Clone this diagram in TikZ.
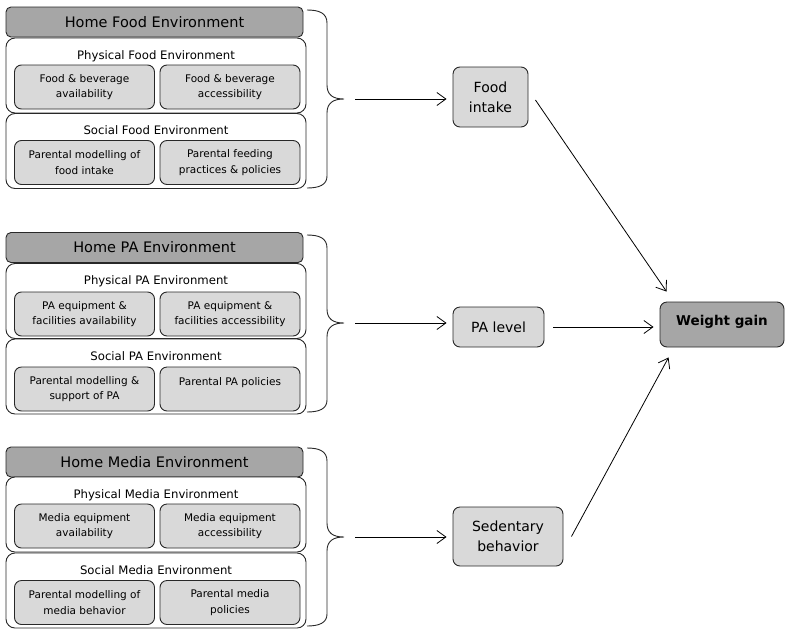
\documentclass[tikz,border=0pt]{standalone}
\usepackage{fontspec}
\setmainfont{DejaVu Sans}
\usetikzlibrary{arrows.meta,calc}
\definecolor{hdr}{RGB}{166,166,166}
\definecolor{itm}{RGB}{217,217,217}
\definecolor{edge}{RGB}{40,40,40}
\tikzset{
  base/.style={draw=edge, line width=0.9pt, inner sep=0pt, align=center},
  header/.style={base, fill=hdr, rounded corners=5pt, minimum width=297pt, minimum height=30pt,
    font=\fontsize{14.5}{17}\selectfont},
  panel/.style={base, fill=white, rounded corners=9pt, minimum width=300pt, minimum height=75pt,
    text height=9pt, text depth=42pt, font=\fontsize{11.7}{14}\selectfont},
  item/.style={base, fill=itm, rounded corners=7pt, minimum width=140pt, minimum height=44pt,
    font=\fontsize{10.5}{15.5}\selectfont},
  itemtop/.style={item, text height=8pt, text depth=15pt},
  mid/.style={base, fill=itm, rounded corners=7pt, minimum height=40pt,
    font=\fontsize{14}{20}\selectfont},
  goal/.style={base, fill=hdr, rounded corners=7pt, minimum width=124pt, minimum height=45pt,
    text height=10pt, text depth=7.5pt, font=\fontsize{13.5}{16}\selectfont\bfseries},
  brace/.style={draw=edge, line width=0.9pt},
  arr/.style={draw=black, line width=0.8pt, -{Straight Barb[length=9pt,width=13pt,line width=0.8pt]}},
}
\begin{document}
\begin{tikzpicture}[x=1pt,y=-1pt]
\useasboundingbox (0,0) rectangle (789,635);
% ---------- Group 1: Food ----------
\node[header] (h1) at (154.5,22) {Home Food Environment};
\node[panel] (p1) at (156,75.5) {Physical Food Environment};
\node[item] (p1a) at (84.5,87) {Food \& beverage\\availability};
\node[item] (p1b) at (230,87) {Food \& beverage\\accessibility};
\node[panel] (s1) at (156,151) {Social Food Environment};
\node[item] (s1a) at (84.5,162.5) {Parental modelling of\\food intake};
\node[item] (s1b) at (230,162.5) {Parental feeding\\practices \& policies};
\draw[brace] (307,10) .. controls (319,10) and (327,13) .. (327,23) -- (327,85)
  .. controls (327,95) and (333,99) .. (344,99) .. controls (333,99) and (327,103) .. (327,113)
  -- (327,176) .. controls (327,185) and (319,188) .. (307,188);
\coordinate (b1) at (355,99);
% ---------- Group 2: PA ----------
\node[header] (h2) at (154.5,247.5) {Home PA Environment};
\node[panel] (p2) at (156,301) {Physical PA Environment};
\node[item] (p2a) at (84.5,314) {PA equipment \&\\facilities availability};
\node[item] (p2b) at (230,314) {PA equipment \&\\facilities accessibility};
\node[panel] (s2) at (156,376.5) {Social PA Environment};
\node[item] (s2a) at (84.5,389) {Parental modelling \&\\support of PA};
\node[itemtop] (s2b) at (230,389) {Parental PA policies};
\draw[brace] (307,235) .. controls (319,235) and (327,238) .. (327,248) -- (327,309)
  .. controls (327,319) and (333,323) .. (344,323) .. controls (333,323) and (327,327) .. (327,337)
  -- (327,400) .. controls (327,409) and (319,412) .. (307,412);
\coordinate (b2) at (355,323);
% ---------- Group 3: Media ----------
\node[header] (h3) at (154.5,462) {Home Media Environment};
\node[panel] (p3) at (156,514.5) {Physical Media Environment};
\node[item] (p3a) at (84.5,526) {Media equipment\\availability};
\node[item] (p3b) at (230,526) {Media equipment\\accessibility};
\node[panel] (s3) at (156,590.5) {Social Media Environment};
\node[item] (s3a) at (84.5,602.5) {Parental modelling of\\media behavior};
\node[item] (s3b) at (230,602.5) {Parental media\\policies};
\draw[brace] (307,448) .. controls (319,448) and (327,451) .. (327,461) -- (327,523)
  .. controls (327,533) and (333,537) .. (344,537) .. controls (333,537) and (327,541) .. (327,551)
  -- (327,614) .. controls (327,623) and (319,626) .. (307,626);
\coordinate (b3) at (355,537);
% ---------- Outcomes ----------
\node[mid, minimum width=75pt, minimum height=60pt] (fi) at (490.5,97) {Food\\intake};
\node[mid, minimum width=91pt] (pa) at (498.5,327) {PA level};
\node[mid, minimum width=110pt, minimum height=59pt] (sb) at (508,536.5) {Sedentary\\behavior};
\node[goal] (wg) at (722,324.5) {Weight gain};
% ---------- Connectors ----------
\draw[arr, shorten >=6pt] (b1) -- (b1 -| fi.west);
\draw[arr, shorten >=6pt] (b2) -- (b2 -| pa.west);
\draw[arr, shorten >=6pt] (b3) -- (b3 -| sb.west);
\draw[arr] ($(fi.east)+(7,3)$) -- ($(wg.north west)+(7,-10)$);
\draw[arr, shorten <=9pt, shorten >=6pt] (pa.east) -- (pa.east -| wg.west);
\draw[arr] ($(sb.east)+(8,0)$) -- ($(wg.south west)+(9,10)$);
\end{tikzpicture}
\end{document}
